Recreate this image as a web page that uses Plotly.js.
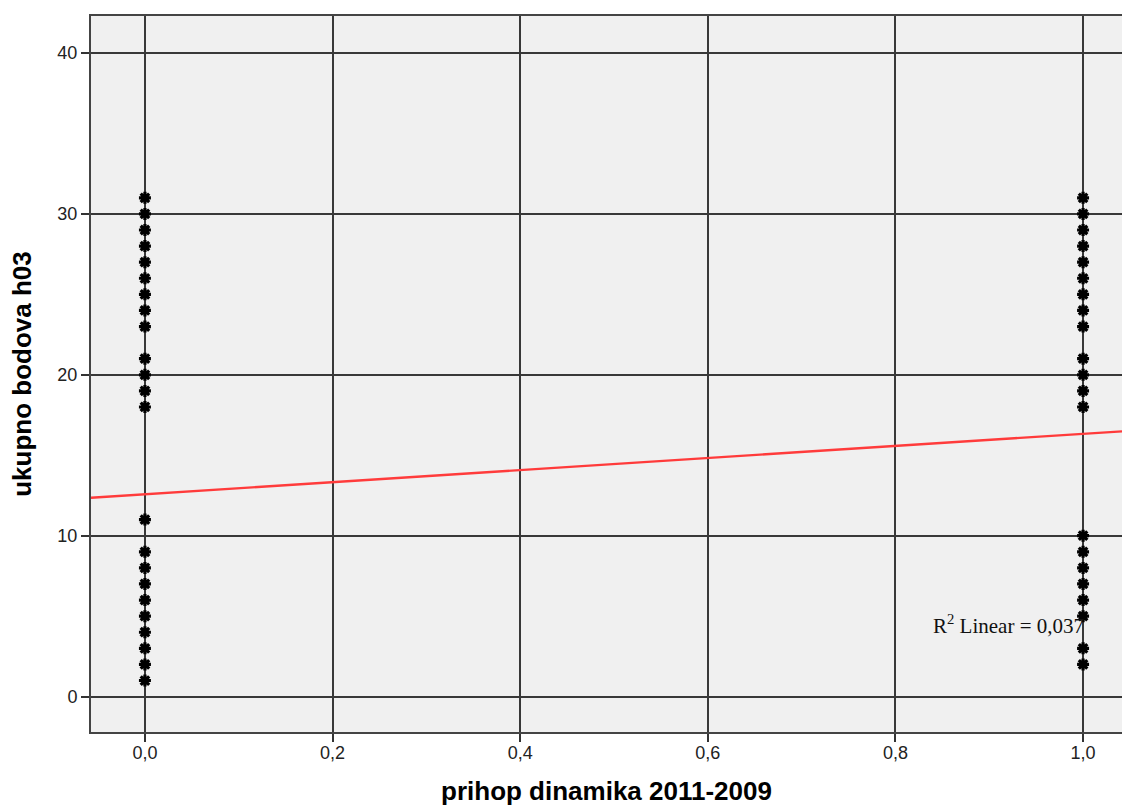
<!DOCTYPE html>
<html>
<head>
<meta charset="utf-8">
<script src="https://cdn.plot.ly/plotly-3.0.1.min.js"></script>
<style>html,body{margin:0;padding:0;background:#fff;}#chart{width:1122px;height:806px;}</style>
</head>
<body>
<div id="chart"></div>
<script>
// Scatter data
const group0X = [0,0,0,0,0,0,0,0,0,0,0,0,0,0,0,0,0,0,0,0,0,0,0];
const group0Y = [31,30,29,28,27,26,25,24,23,21,20,19,18,11,9,8,7,6,5,4,3,2,1];
const group1X = [1,1,1,1,1,1,1,1,1,1,1,1,1,1,1,1,1,1,1,1,1];
const group1Y = [31,30,29,28,27,26,25,24,23,21,20,19,18,10,9,8,7,6,5,3,2];
// Fit line
const fitX = [-0.0575, 1.0415];
const fitY = [12.36, 16.49];
const xTickVals = [0, 0.2, 0.4, 0.6, 0.8, 1.0];
const xTickText = ["0,0", "0,2", "0,4", "0,6", "0,8", "1,0"];
const yTickVals = [0, 10, 20, 30, 40];
const r2Text = "R<sup>2</sup> Linear = 0,037";

const markerStyle = {symbol: 'asterisk-open', size: 10, color: '#000', line: {color: '#000', width: 3.2}};
const traces = [
  {x: fitX, y: fitY, mode: 'lines', line: {color: '#ff3b3b', width: 2.3}, hoverinfo: 'skip'},
  {x: group0X, y: group0Y, mode: 'markers', marker: markerStyle, cliponaxis: false},
  {x: group1X, y: group1Y, mode: 'markers', marker: markerStyle, cliponaxis: false}
];

const tickFont = {size: 18, family: 'Liberation Sans, Arial, sans-serif', color: '#222'};
const titleFont = {size: 26, family: 'Liberation Sans, Arial, sans-serif', color: '#000'};

const layout = {
  width: 1122, height: 806,
  margin: {l: 91, r: 0, t: 16, b: 74, pad: 0},
  paper_bgcolor: '#ffffff',
  plot_bgcolor: '#f0f0f0',
  showlegend: false,
  font: {family: 'Liberation Sans, Arial, sans-serif', color: '#000'},
  xaxis: {
    range: [-0.0575, 1.0415],
    tickvals: xTickVals, ticktext: xTickText,
    ticks: 'outside', ticklen: 8, tickwidth: 2, tickcolor: '#333',
    ticklabelstandoff: -5,
    tickfont: tickFont,
    showgrid: true, gridcolor: '#383838', gridwidth: 2,
    zeroline: false,
    showline: true, linecolor: '#444', linewidth: 2, mirror: true,
    title: {text: '<b>prihop dinamika 2011-2009</b>', font: titleFont, standoff: 22}
  },
  yaxis: {
    range: [-2.2, 42.3],
    tickvals: yTickVals,
    ticks: 'outside', ticklen: 8, tickwidth: 2, tickcolor: '#333',
    tickfont: tickFont,
    showgrid: true, gridcolor: '#383838', gridwidth: 2,
    zeroline: false,
    showline: true, linecolor: '#444', linewidth: 2, mirror: false,
    title: {text: '<b>ukupno bodova h03</b>', font: titleFont, standoff: 18}
  },
  annotations: [{
    x: 1.0, y: 4.5, xref: 'x', yref: 'y', xanchor: 'right', yanchor: 'middle',
    text: r2Text, showarrow: false, xshift: 3,
    font: {family: 'Liberation Serif, Times New Roman, serif', size: 21, color: '#111'}
  }]
};

Plotly.newPlot('chart', traces, layout, {staticPlot: true, displayModeBar: false});
</script>
</body>
</html>
